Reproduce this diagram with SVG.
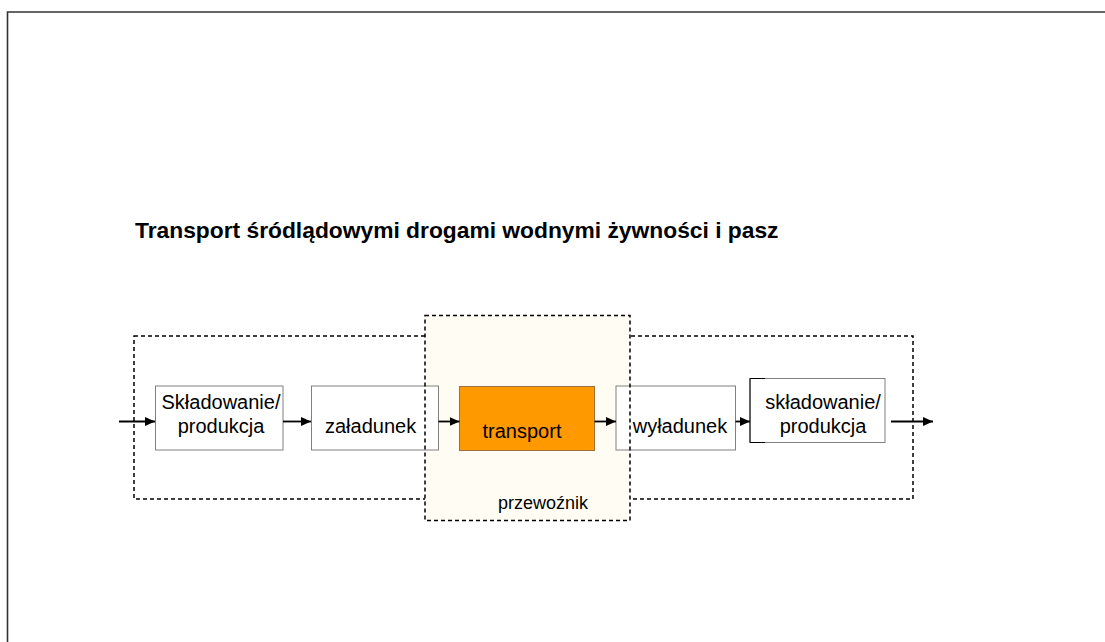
<svg xmlns="http://www.w3.org/2000/svg" width="1105" height="642" viewBox="0 0 1105 642">
<style>
.box{fill:#fff;stroke:#808080;stroke-width:1}
.dash{fill:none;stroke:#000;stroke-width:1.5;stroke-dasharray:4 3}
.t{font-family:"Liberation Sans",Arial,sans-serif;font-size:20px;fill:#000}
.c{text-anchor:middle}
.conn{stroke:#000;stroke-width:1.8;fill:none;marker-end:url(#ah)}
</style>
<defs>
<marker id="ah" markerUnits="userSpaceOnUse" markerWidth="11" markerHeight="11" refX="10" refY="5.5" orient="auto">
<path d="M0,1 L10,5.5 L0,10 Z" fill="#000"/>
</marker>
</defs>
<rect width="1105" height="642" fill="#fff"/>
<path d="M7.5,642 V12 H1105" fill="none" stroke="#333" stroke-width="1.6"/>
<text x="135" y="238" font-family="'Liberation Sans',Arial,sans-serif" font-size="22.8" font-weight="bold">Transport śródlądowymi drogami wodnymi żywności i pasz</text>
<g id="zone-outer"><rect class="dash" x="134" y="336" width="779" height="163"/></g>
<g id="zone-carrier-fill"><rect x="425" y="315.5" width="205" height="205" fill="#fffcf4"/></g>
<g id="n1"><rect class="box" x="155.5" y="386" width="127.5" height="64"/>
<text class="t c" x="221" y="409">Składowanie/</text><text class="t c" x="221" y="433">produkcja</text></g>
<g id="n2"><rect class="box" x="311.5" y="386" width="127" height="64"/>
<text class="t" x="325" y="433">załadunek</text></g>
<g id="n3"><rect x="459.5" y="386.5" width="135" height="64" fill="#ff9900" stroke="#a0703a" stroke-width="1"/>
<text class="t c" x="522" y="438">transport</text></g>
<g id="n4"><rect class="box" x="616" y="386" width="119.5" height="64"/>
<text class="t c" x="680" y="433">wyładunek</text></g>
<g id="n5"><rect class="box" x="750" y="378.5" width="135" height="64"/>
<path d="M765,378.5 H750 V442.5 H765" fill="none" stroke="#000" stroke-width="1"/>
<text class="t c" x="823" y="409">składowanie/</text><text class="t c" x="823" y="433">produkcja</text></g>
<g id="zone-carrier"><rect class="dash" x="425" y="315.5" width="205" height="205"/>
<text class="t c" x="543" y="509" style="font-size:18px">przewoźnik</text></g>
<g id="connectors">
<line class="conn" x1="119" y1="421.5" x2="155" y2="421.5"/>
<line class="conn" x1="283" y1="421.5" x2="311" y2="421.5"/>
<line class="conn" x1="438.5" y1="421.5" x2="459.5" y2="421.5"/>
<line class="conn" x1="594.5" y1="421.5" x2="616" y2="421.5"/>
<line class="conn" x1="735.5" y1="421.5" x2="750" y2="421.5"/>
<line class="conn" x1="891" y1="421.5" x2="933" y2="421.5"/>
</g>
</svg>
